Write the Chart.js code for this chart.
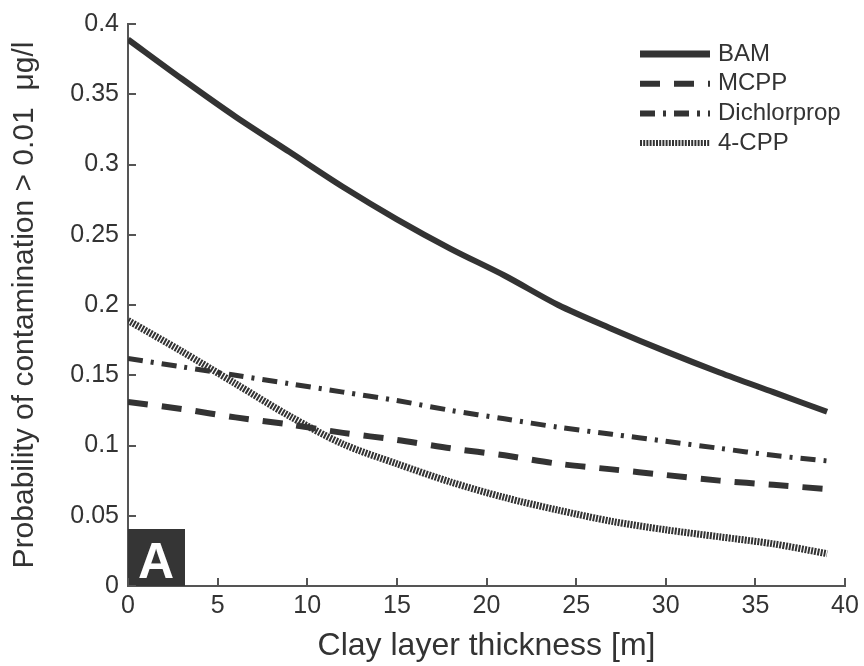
<!DOCTYPE html>
<html>
<head>
<meta charset="utf-8">
<script src="https://cdn.jsdelivr.net/npm/chart.js@4.4.1/dist/chart.umd.min.js"></script>
<style>
  html, body { margin: 0; padding: 0; background: #fff; }
  #wrap { width: 864px; height: 666px; }
</style>
</head>
<body>
<div id="wrap"><canvas id="chart"></canvas></div>
<script>
// clay layer thickness [m]
const thickness = [0, 3, 6, 9, 12, 15, 18, 21, 24, 27, 30, 33, 36, 39];

// probability of contamination > 0.01 ug/l
const bam = [0.389, 0.361, 0.334, 0.309, 0.284, 0.261, 0.240, 0.221, 0.200, 0.183, 0.167, 0.152, 0.138, 0.124];
const mcpp = [0.131, 0.126, 0.120, 0.115, 0.109, 0.104, 0.098, 0.093, 0.087, 0.083, 0.079, 0.075, 0.072, 0.069];
const dichlorprop = [0.162, 0.156, 0.150, 0.144, 0.138, 0.132, 0.125, 0.119, 0.113, 0.108, 0.103, 0.098, 0.093, 0.089];
const cpp4 = [0.189, 0.167, 0.144, 0.121, 0.101, 0.087, 0.074, 0.063, 0.054, 0.046, 0.040, 0.035, 0.030, 0.023];

const xTicks = [0, 5, 10, 15, 20, 25, 30, 35, 40];
const yTicks = [0, 0.05, 0.1, 0.15, 0.2, 0.25, 0.3, 0.35, 0.4];

const ink = "#333";
const axisColor = "#555";
const fontFamily = "'Liberation Sans', Arial, sans-serif";

const toPoints = (vals) => vals.map((v, i) => ({ x: thickness[i], y: v }));

function lineSet(label, vals, width, dash) {
  return {
    label: label,
    data: toPoints(vals),
    borderColor: ink,
    borderWidth: width,
    borderDash: dash,
    borderCapStyle: "butt",
    pointRadius: 0,
    fill: false,
    tension: 0.3,
  };
}

// ticks pointing into the plot, like the original figure
const inwardTicks = {
  id: "inwardTicks",
  afterDraw(chart) {
    const { ctx, chartArea, scales } = chart;
    ctx.save();
    ctx.strokeStyle = axisColor;
    ctx.lineWidth = 2;
    ctx.beginPath();
    xTicks.forEach((t) => {
      const px = Math.round(scales.x.getPixelForValue(t));
      ctx.moveTo(px, chartArea.bottom);
      ctx.lineTo(px, chartArea.bottom - 8);
    });
    yTicks.forEach((t) => {
      const py = Math.round(scales.y.getPixelForValue(t));
      ctx.moveTo(chartArea.left, py);
      ctx.lineTo(chartArea.left + 8, py);
    });
    ctx.stroke();
    ctx.restore();
  },
};

// legend in the top right corner + the "A" panel label
const panelExtras = {
  id: "panelExtras",
  afterDatasetsDraw(chart) {
    const { ctx, chartArea } = chart;
    ctx.save();
    const x0 = chartArea.right - 205;
    const x1 = chartArea.right - 135;
    chart.data.datasets.forEach((ds, i) => {
      const y = chartArea.top + 30 + i * 29.7;
      ctx.strokeStyle = ds.borderColor;
      ctx.lineWidth = i === 0 ? 7 : 6;
      ctx.lineCap = "butt";
      ctx.setLineDash(ds.borderDash || []);
      ctx.beginPath();
      ctx.moveTo(x0, y);
      ctx.lineTo(x1, y);
      ctx.stroke();
      ctx.setLineDash([]);
      ctx.fillStyle = ink;
      ctx.font = "24px " + fontFamily;
      ctx.textBaseline = "middle";
      ctx.textAlign = "left";
      ctx.fillText(ds.label, x1 + 8, y);
    });

    ctx.fillStyle = "#353535";
    ctx.fillRect(chartArea.left, chartArea.bottom - 57, 57, 57);
    ctx.fillStyle = "#fff";
    ctx.font = "bold 50px " + fontFamily;
    ctx.textAlign = "center";
    ctx.textBaseline = "alphabetic";
    ctx.fillText("A", chartArea.left + 28, chartArea.bottom - 8);
    ctx.restore();
  },
};

const chartCanvas = document.getElementById("chart");

new Chart(chartCanvas, {
  type: "line",
  data: {
    datasets: [
      lineSet("BAM", bam, 6, []),
      lineSet("MCPP", mcpp, 6, [20, 14]),
      lineSet("Dichlorprop", dichlorprop, 5, [15, 8, 3, 8]),
      lineSet("4-CPP", cpp4, 7, [2, 1.2]),
    ],
  },
  options: {
    responsive: true,
    maintainAspectRatio: false,
    devicePixelRatio: 1,
    animation: false,
    layout: { padding: { top: 19, right: 19, left: 0, bottom: 0 } },
    plugins: {
      legend: { display: false },
      tooltip: { enabled: false },
    },
    scales: {
      x: {
        type: "linear",
        min: 0,
        max: 40,
        afterBuildTicks: (s) => { s.ticks = xTicks.map((v) => ({ value: v })); },
        afterFit: (s) => { s.height = 80; },
        ticks: {
          color: ink,
          font: { family: fontFamily, size: 25 },
          padding: 5,
          maxRotation: 0,
        },
        grid: { display: false, drawTicks: false },
        border: { display: true, color: axisColor, width: 2 },
        title: {
          display: true,
          text: "Clay layer thickness [m]",
          color: ink,
          font: { family: fontFamily, size: 32 },
          padding: { top: 0, bottom: 1 },
        },
      },
      y: {
        min: 0,
        max: 0.4,
        afterBuildTicks: (s) => { s.ticks = yTicks.map((v) => ({ value: v })); },
        afterFit: (s) => { s.width = 128; },
        ticks: {
          color: ink,
          font: { family: fontFamily, size: 25 },
          padding: 9,
          callback: (v) => String(Number(v.toFixed(2))),
        },
        grid: { display: false, drawTicks: false },
        border: { display: true, color: axisColor, width: 2 },
        title: {
          display: true,
          text: "Probability of contamination > 0.01  μg/l",
          color: ink,
          font: { family: fontFamily, size: 30 },
          padding: { top: 7, bottom: 0 },
        },
      },
    },
  },
  plugins: [inwardTicks, panelExtras],
});
</script>
</body>
</html>
